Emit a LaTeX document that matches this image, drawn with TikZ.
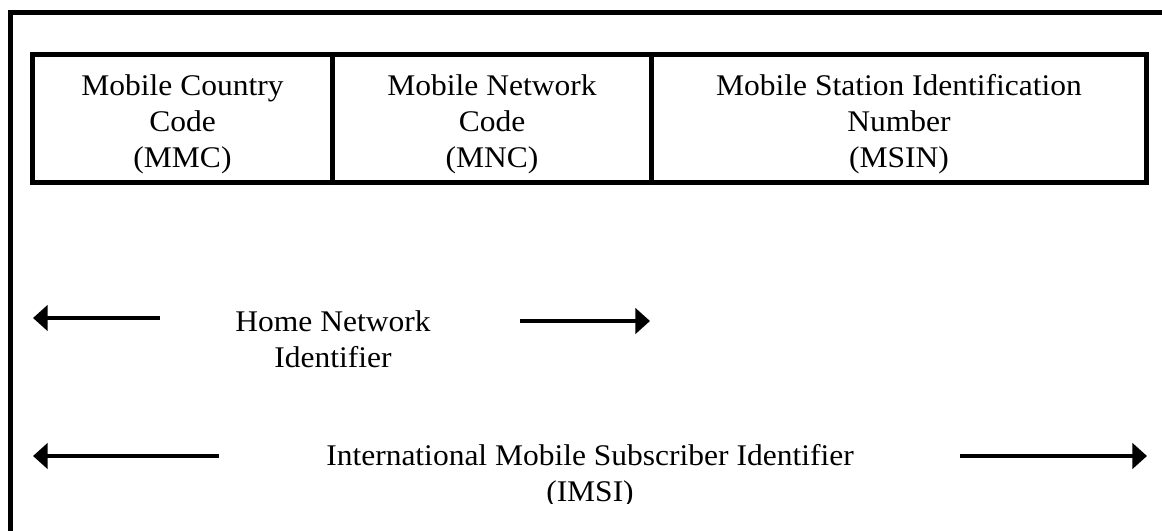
\documentclass[tikz,border=0pt]{standalone}
\usepackage{fontspec}
\setmainfont{Liberation Serif}[FakeStretch=1.05]
\usepackage{tikz}
\usetikzlibrary{positioning, arrows.meta}

% lifts the first line of a cell so the text sits a bit low, as in the table
\newcommand{\toproom}{\rule{0pt}{24pt}}

\tikzset{
  field/.style={draw, line width=3.75pt, inner sep=0pt, outer sep=0pt,
    align=center, minimum height=96pt, anchor=north west},
  label/.style={align=center},
  span/.style={line width=3.2pt, -{Triangle[length=11pt, width=19pt]}}
}

\begin{document}
\begin{tikzpicture}[x=0.75pt, y=-0.75pt,
    font=\fontsize{22.5}{27}\selectfont]
                \useasboundingbox (0,0) rectangle (1162,531);
                \clip (0,0) rectangle (1162,531);
                % outer frame, runs off the page on the right and bottom
                \draw [line width=3.75pt] (10.5,12.5) rectangle (1180,560);
                \node [field, minimum width=225pt] (MCC) at (32.5,54.5)
                  {\toproom Mobile Country\\Code\\(MMC)};
                \node [field, minimum width=239.25pt, right = 0pt of MCC] (MNC)
                  {\toproom Mobile Network\\Code\\(MNC)};
                \node [field, minimum width=371.25pt, right = 0pt of MNC] (MSIN)
                  {\toproom Mobile Station Identification\\Number\\(MSIN)};
                \node [label] (HNI) at (333,339.5) {Home Network\\Identifier};
                \begin{scope}
                  % the text box of the last label is cut off at the bottom
                  \clip (0,0) rectangle (1162,503);
                  \node [label] (IMSI) at (590,476)
                    {International Mobile Subscriber Identifier\\(IMSI)};
                \end{scope}
                \coordinate (HNIa) at (160,318);
                \coordinate (HNIb) at (33,318);
                \coordinate (HNIc) at (520,321);
                \coordinate (HNId) at (650,321);
                \coordinate (IMSIa) at (219,456);
                \coordinate (IMSIb) at (33,456);
                \coordinate (IMSIc) at (960,456);
                \coordinate (IMSId) at (1147,456);
                \draw [span] (HNIa) -- (HNIb);
                \draw [span] (HNIc) -- (HNId);
                \draw [span] (IMSIa) -- (IMSIb);
                \draw [span] (IMSIc) -- (IMSId);
\end{tikzpicture}
\end{document}
